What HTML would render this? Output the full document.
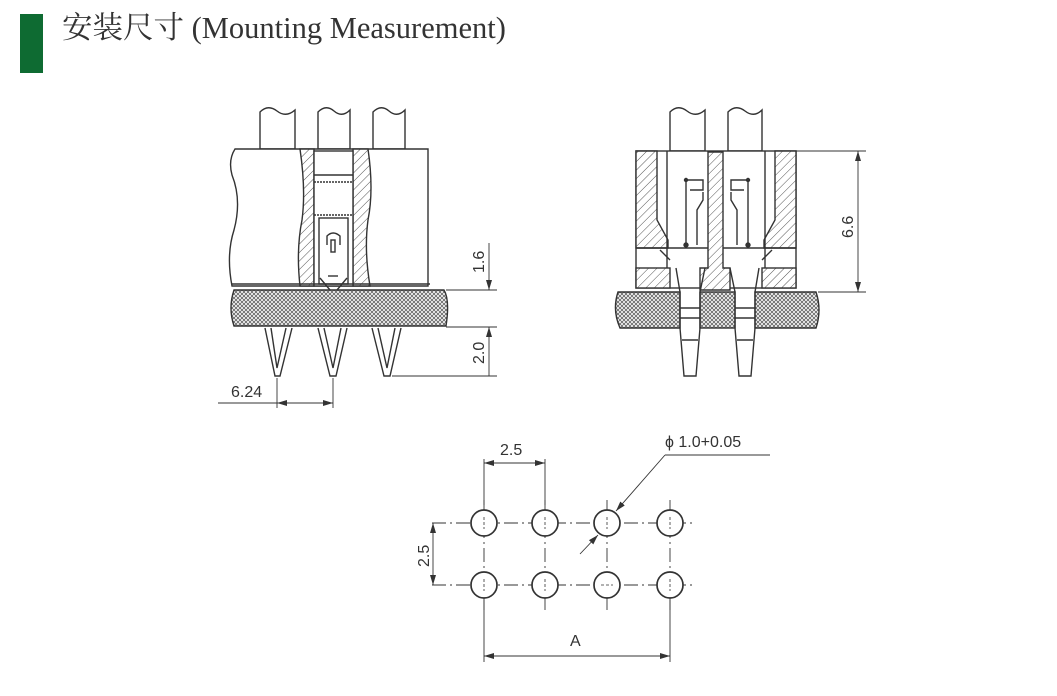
<!DOCTYPE html>
<html><head><meta charset="utf-8"><style>
html,body{margin:0;padding:0;background:#fff;}
svg{display:block;}
text{font-family:"Liberation Sans",sans-serif;fill:#333;}
</style></head><body>
<svg width="1057" height="696" viewBox="0 0 1057 696" xmlns="http://www.w3.org/2000/svg">
<defs>
<pattern id="h" width="6" height="6" patternUnits="userSpaceOnUse" patternTransform="rotate(45)">
<rect width="6" height="6" fill="#fff"/><line x1="0" y1="0" x2="0" y2="6" stroke="#555" stroke-width="1"/></pattern>
<pattern id="x" width="4" height="4" patternUnits="userSpaceOnUse">
<rect width="4" height="4" fill="#fff"/><path d="M0 0L4 4M4 0L0 4" stroke="#666" stroke-width="0.9"/></pattern>
<marker id="a" markerWidth="10" markerHeight="6" refX="10" refY="3" orient="auto" markerUnits="userSpaceOnUse">
<path d="M0 0L10 3L0 6z" fill="#333"/></marker>
</defs>
<rect x="20" y="14" width="23" height="59" fill="#0e6b32"/>
<text x="62" y="38" style="font-family:'Liberation Serif','Noto Serif CJK SC',serif;font-size:30.5px;fill:#333">安装尺寸 (Mounting Measurement)</text>

<g stroke="#333" stroke-width="1.4" fill="none">
<g fill="#fff">
<path d="M260 149V112Q268 104 277 111Q286 118 295 110V149Z"/>
<path d="M318 149V112Q326 104 334 111Q342 118 350 110V149Z"/>
<path d="M373 149V112Q381 104 389 111Q397 118 405 110V149Z"/>
</g>
<path d="M235 149H428V286H232Q226 255 234 230Q242 200 232 175Q228 160 235 149Z" fill="#fff"/>
<path d="M300 149H314V286H300Q296 250 302 220Q306 190 300 149Z" fill="url(#h)"/>
<path d="M353 149H368Q374 190 368 220Q364 250 370 286H353Z" fill="url(#h)"/>
<rect x="314" y="151" width="39" height="135" fill="#fff"/>
<line x1="314" y1="175" x2="353" y2="175"/>
<line x1="314" y1="182" x2="353" y2="182" stroke-dasharray="2 1"/>
<line x1="314" y1="215" x2="353" y2="215" stroke-dasharray="2 1"/>
<rect x="319" y="218" width="29" height="66"/>
<path d="M327 245V236Q333 230 340 236V245" />
<rect x="331" y="240" width="4" height="12"/>
<path d="M320 278L330 290M347 278L337 290"/>
<line x1="328" y1="276" x2="338" y2="276"/>
<line x1="232" y1="284" x2="430" y2="284"/>
<path d="M234 290H444Q450 300 446 326H234Q228 308 234 290Z" fill="url(#x)"/>
<path d="M265 328L275 376H280L292 328M271 328L277 368L286 328"/>
<path d="M318 328L330 376H336L347 328M324 328L333 368L341 328"/>
<path d="M372 328L384 376H390L401 328M378 328L387 368L395 328"/>
<g stroke-width="0.9">
<line x1="446" y1="290" x2="497" y2="290"/>
<line x1="446" y1="327" x2="497" y2="327"/>
<line x1="392" y1="376" x2="497" y2="376"/>
<line x1="489" y1="243" x2="489" y2="290" marker-end="url(#a)"/>
<line x1="489" y1="376" x2="489" y2="327" marker-end="url(#a)"/>
<line x1="218" y1="403" x2="333" y2="403"/>
<line x1="277" y1="378" x2="277" y2="408"/>
<line x1="333" y1="378" x2="333" y2="408"/>
<line x1="300" y1="403" x2="277" y2="403" marker-end="url(#a)"/>
<line x1="310" y1="403" x2="333" y2="403" marker-end="url(#a)"/>
</g>

<g fill="#fff">
<path d="M670 151V112Q678 104 687 111Q696 118 705 110V151Z"/>
<path d="M728 151V112Q736 104 745 111Q754 118 762 110V151Z"/>
</g>
<rect x="636" y="151" width="160" height="137" fill="#fff"/>
<path d="M636 151H657V220L668 240V248H636Z" fill="url(#h)"/>
<path d="M796 151H775V220L764 240V248H796Z" fill="url(#h)"/>
<line x1="667" y1="151" x2="667" y2="288"/>
<line x1="765" y1="151" x2="765" y2="288"/>
<line x1="636" y1="248" x2="796" y2="248"/>
<path d="M660 250L670 260M772 250L762 260"/>
<rect x="636" y="268" width="34" height="20" fill="url(#h)"/>
<rect x="762" y="268" width="34" height="20" fill="url(#h)"/>
<path d="M708 152H723V268H730V290H700V268H708Z" fill="url(#h)"/>
<path d="M686 180V245M748 180V245"/>
<path d="M686 180H703V190H690M748 180H731V190H744"/>
<path d="M703 192V200L697 210V245M731 192V200L737 210V245"/>
<circle cx="686" cy="245" r="2" fill="#333"/><circle cx="748" cy="245" r="2" fill="#333"/>
<circle cx="686" cy="180" r="1.5" fill="#333"/><circle cx="748" cy="180" r="1.5" fill="#333"/>
<path d="M618 292H680V328H620Q612 310 618 292Z" fill="url(#x)"/>
<rect x="700" y="292" width="35" height="36" fill="url(#x)"/>
<path d="M755 292H816Q822 310 816 328H755Z" fill="url(#x)"/>
<path d="M676 268L680 292V328L684 376H696L700 328V292L705 268"/>
<path d="M730 268L735 292V328L739 376H751L755 328V292L759 268"/>
<path d="M680 308H700M680 318H700M735 308H755M735 318H755M682 340H698M737 340H753"/>
<g stroke-width="0.9">
<line x1="796" y1="151" x2="866" y2="151"/>
<line x1="818" y1="292" x2="866" y2="292"/>
<line x1="858" y1="220" x2="858" y2="151" marker-end="url(#a)"/>
<line x1="858" y1="220" x2="858" y2="292" marker-end="url(#a)"/>
</g>

<g stroke-width="0.9" stroke-dasharray="14 4 2 4">
<line x1="432" y1="523" x2="695" y2="523"/>
<line x1="432" y1="585" x2="695" y2="585"/>
</g>
<g stroke-width="0.9" stroke-dasharray="14 4 2 4">
<line x1="484" y1="500" x2="484" y2="610"/>
<line x1="545" y1="500" x2="545" y2="610"/>
<line x1="607" y1="500" x2="607" y2="610"/>
<line x1="670" y1="500" x2="670" y2="610"/>
</g>
<g stroke-width="1.7" fill="#fff">
<circle cx="484" cy="523" r="13"/><circle cx="545" cy="523" r="13"/><circle cx="607" cy="523" r="13"/><circle cx="670" cy="523" r="13"/>
<circle cx="484" cy="585" r="13"/><circle cx="545" cy="585" r="13"/><circle cx="607" cy="585" r="13"/><circle cx="670" cy="585" r="13"/>
</g>
<g stroke-width="0.8" stroke-dasharray="3 2">
<path d="M484 517V529M545 517V529M607 517V529M670 517V529M484 579V591M545 579V591M670 579V591M601 585H613"/>
</g>
<g stroke-width="0.9">
<line x1="484" y1="459" x2="484" y2="505"/>
<line x1="545" y1="459" x2="545" y2="505"/>
<line x1="515" y1="463" x2="484" y2="463" marker-end="url(#a)"/>
<line x1="515" y1="463" x2="545" y2="463" marker-end="url(#a)"/>
<line x1="433" y1="554" x2="433" y2="523" marker-end="url(#a)"/>
<line x1="433" y1="554" x2="433" y2="585" marker-end="url(#a)"/>
<line x1="484" y1="600" x2="484" y2="662"/>
<line x1="670" y1="600" x2="670" y2="662"/>
<line x1="577" y1="656" x2="484" y2="656" marker-end="url(#a)"/>
<line x1="577" y1="656" x2="670" y2="656" marker-end="url(#a)"/>
<line x1="665" y1="455" x2="770" y2="455"/>
<line x1="665" y1="455" x2="616" y2="511" marker-end="url(#a)"/>
<line x1="580" y1="554" x2="598" y2="535" marker-end="url(#a)"/>
</g>
</g>
<g font-size="16">
<text x="231" y="397">6.24</text>
<text transform="translate(484,273) rotate(-90)">1.6</text>
<text transform="translate(484,364) rotate(-90)">2.0</text>
<text transform="translate(853,238) rotate(-90)">6.6</text>
<text x="500" y="455">2.5</text>
<text transform="translate(429,567) rotate(-90)">2.5</text>
<text x="570" y="646">A</text>
<text x="665" y="447">ϕ 1.0+0.05</text>
</g>
</svg>
</body></html>
